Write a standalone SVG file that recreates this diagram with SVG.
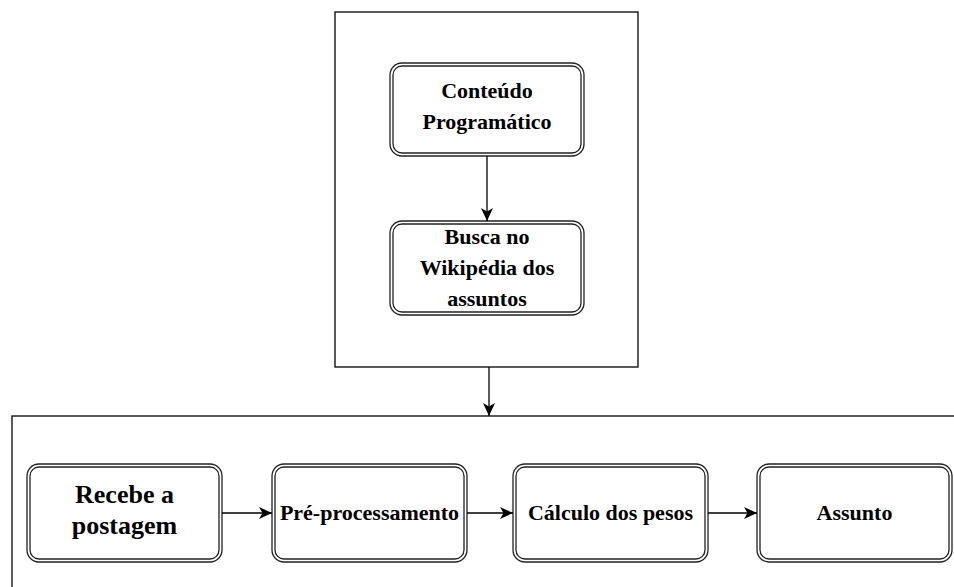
<svg xmlns="http://www.w3.org/2000/svg" width="954" height="587" viewBox="0 0 954 587">
<defs>
<style>
.container{fill:#fff;stroke:#000;stroke-width:1.3}
.outer{fill:#fff;stroke:#222;stroke-width:1.3}
.inner{fill:none;stroke:#222;stroke-width:1.3}
.lbl{font-family:"Liberation Serif","Times New Roman",serif;font-weight:bold;font-size:22px;fill:#000;text-anchor:middle}
.big{font-size:26px}
.edge{fill:none;stroke:#000;stroke-width:1.3}
</style>
<marker id="arr" viewBox="0 0 13 12" refX="13" refY="6" markerWidth="13" markerHeight="12" markerUnits="userSpaceOnUse" orient="auto">
<path d="M0,0 L13,6 L0,12 L3.5,6 Z" fill="#000"/>
</marker>
</defs>
<rect width="954" height="587" fill="#fff"/>
<g id="container-top"><rect class="container" x="335" y="12" width="303" height="355"/></g>
<g id="container-bottom"><rect class="container" x="12" y="416" width="980" height="220"/></g>
<g id="n-conteudo">
<rect class="outer" x="390" y="63" width="194" height="93" rx="12"/>
<rect class="inner" x="393" y="66" width="188" height="87" rx="9"/>
<text class="lbl" x="487" y="98">Conteúdo</text>
<text class="lbl" x="487" y="129">Programático</text>
</g>
<g id="n-busca">
<rect class="outer" x="390" y="221" width="194" height="94" rx="12"/>
<rect class="inner" x="393" y="224" width="188" height="88" rx="9"/>
<text class="lbl" x="487" y="244">Busca no</text>
<text class="lbl" x="487" y="275">Wikipédia dos</text>
<text class="lbl" x="487" y="306">assuntos</text>
</g>
<g id="n-recebe">
<rect class="outer" x="27" y="464" width="195" height="98" rx="12"/>
<rect class="inner" x="30" y="467" width="189" height="92" rx="9"/>
<text class="lbl big" x="124.5" y="503">Recebe a</text>
<text class="lbl big" x="124.5" y="534">postagem</text>
</g>
<g id="n-pre">
<rect class="outer" x="272" y="464" width="195" height="98" rx="12"/>
<rect class="inner" x="275" y="467" width="189" height="92" rx="9"/>
<text class="lbl" x="369.5" y="520">Pré-processamento</text>
</g>
<g id="n-calculo">
<rect class="outer" x="513" y="464" width="195" height="98" rx="12"/>
<rect class="inner" x="516" y="467" width="189" height="92" rx="9"/>
<text class="lbl" x="610.5" y="520">Cálculo dos pesos</text>
</g>
<g id="n-assunto">
<rect class="outer" x="757" y="464" width="195" height="98" rx="12"/>
<rect class="inner" x="760" y="467" width="189" height="92" rx="9"/>
<text class="lbl" x="854.5" y="520">Assunto</text>
</g>
<g id="connectors">
<path class="edge" d="M487,156 V221" marker-end="url(#arr)"/>
<path class="edge" d="M489,367 V416" marker-end="url(#arr)"/>
<path class="edge" d="M222,513 H272" marker-end="url(#arr)"/>
<path class="edge" d="M467,513 H513" marker-end="url(#arr)"/>
<path class="edge" d="M708,513 H757" marker-end="url(#arr)"/>
</g>
</svg>
